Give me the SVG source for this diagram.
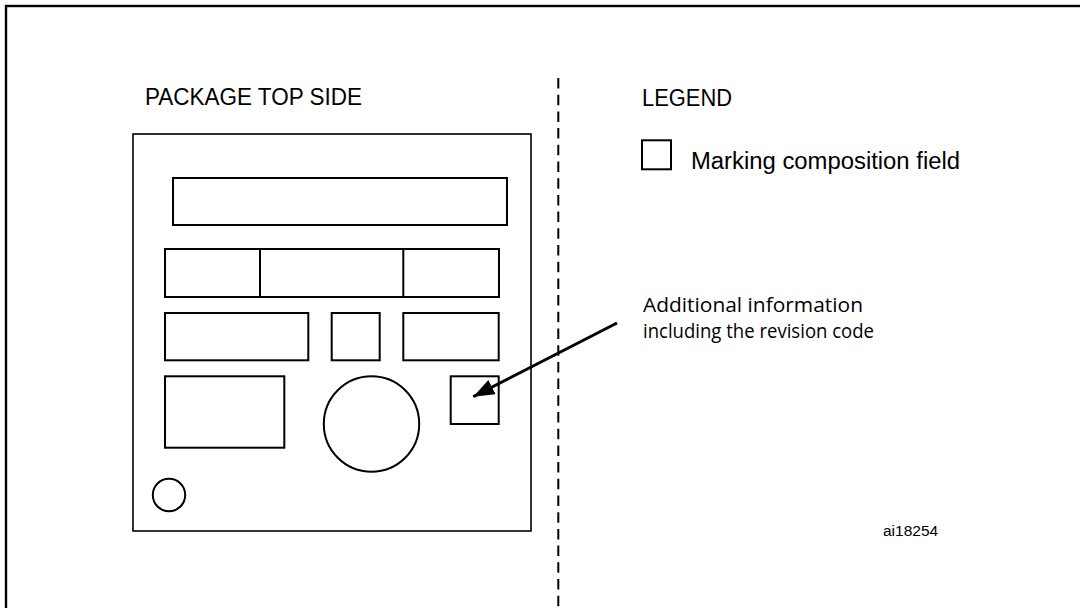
<svg xmlns="http://www.w3.org/2000/svg" width="1080" height="608" viewBox="0 0 1080 608">
<defs>
<style>
.ln{fill:none;stroke:#000;stroke-width:2}
.th{fill:none;stroke:#000;stroke-width:1.6}
.t{font-family:"Liberation Sans",Arial,sans-serif;fill:#000}
.t2{font-family:"Open Sans","Noto Sans",sans-serif;fill:#000}
</style>
<marker id="ah" markerUnits="userSpaceOnUse" markerWidth="24" markerHeight="18" refX="21" refY="8" orient="auto">
<path d="M0,0 L21,8 L0,16 Z" fill="#000"/>
</marker>
</defs>
<rect width="1080" height="608" fill="#fff"/>
<rect id="frame" x="6" y="6" width="1090" height="620" fill="none" stroke="#000" stroke-width="2.4"/>
<g id="package">
<text class="t" x="145" y="105" font-size="23" textLength="217" lengthAdjust="spacingAndGlyphs">PACKAGE TOP SIDE</text>
<rect class="th" x="133" y="134" width="398" height="397"/>
</g>
<g id="fields">
<rect class="ln" x="173" y="178" width="334" height="47"/>
<rect class="ln" x="165" y="249" width="334" height="48"/>
<line class="ln" x1="260" y1="249" x2="260" y2="297"/>
<line class="ln" x1="403.3" y1="249" x2="403.3" y2="297"/>
<rect class="ln" x="165" y="313" width="143.3" height="47.3"/>
<rect class="ln" x="331.7" y="313" width="48" height="47.3"/>
<rect class="ln" x="403.3" y="313" width="95.4" height="47.3"/>
<rect class="ln" x="165" y="376.3" width="119.3" height="71.4"/>
<circle class="ln" cx="371.5" cy="424" r="47.7"/>
<rect id="revbox" class="ln" x="450.7" y="376.3" width="48" height="47.7"/>
<circle class="ln" cx="169" cy="495" r="16.2"/>
</g>
<line id="divider" x1="558.3" y1="78" x2="558.3" y2="608" stroke="#000" stroke-width="2" stroke-dasharray="10.5 6.2"/>
<g id="legend">
<text class="t" x="642" y="105.5" font-size="23" textLength="90" lengthAdjust="spacingAndGlyphs">LEGEND</text>
<rect class="ln" x="642" y="140.3" width="29" height="29"/>
<text class="t" x="691" y="169" font-size="23.5" textLength="269" lengthAdjust="spacingAndGlyphs">Marking composition field</text>
</g>
<g id="note">
<text class="t2" x="643" y="312" font-size="19.5" textLength="220" lengthAdjust="spacingAndGlyphs">Additional information</text>
<text class="t2" x="643" y="338" font-size="19.5" textLength="231" lengthAdjust="spacingAndGlyphs">including the revision code</text>
</g>
<g id="connectors">
<line x1="617" y1="323" x2="473.3" y2="396.7" stroke="#000" stroke-width="3" marker-end="url(#ah)"/>
</g>
<text class="t" x="883" y="535.5" font-size="15.5">ai18254</text>
</svg>
